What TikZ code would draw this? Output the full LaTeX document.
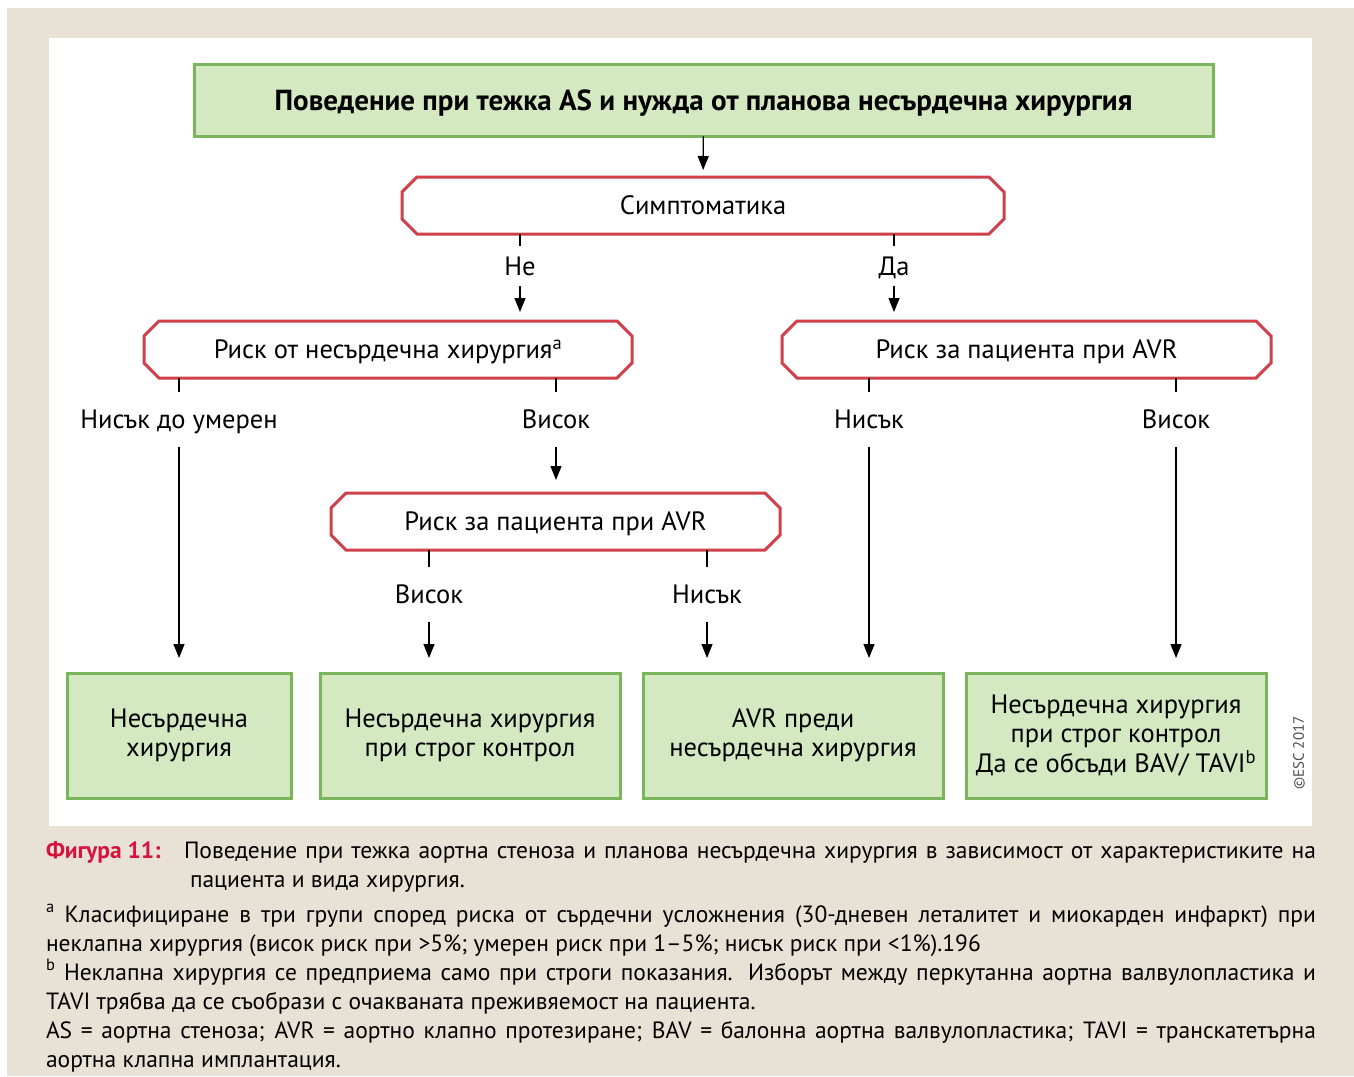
\documentclass[tikz,border=0pt]{standalone}
\usepackage{fontspec}
\setmainfont{PT Sans}
\usepackage{xcolor}
\usetikzlibrary{arrows.meta}
\definecolor{escbeige}{HTML}{E8E1D6}
\definecolor{escgreen}{HTML}{D4E8C2}
\definecolor{escgreenline}{HTML}{7AB55C}
\definecolor{escred}{HTML}{D0404A}
\definecolor{esccaption}{HTML}{D4143C}
\newcommand{\fullline}[2]{\makebox[#1pt][s]{#2}}

\begin{document}
\begin{tikzpicture}[x=1pt,y=-1pt,
    every node/.style={inner sep=0pt,outer sep=0pt},
    bodyfont/.style={font=\fontsize{26.5}{29.5}\selectfont},
    capfont/.style={font=\fontsize{23.5}{29}\selectfont},
    box/.style={bodyfont,draw=escgreenline,fill=escgreen,line width=3pt,align=center,minimum height=125},
    riskbox/.style={bodyfont,rectangle,minimum height=57,text height=18.5pt,text depth=0pt},
    redline/.style={draw=escred,line width=3pt},
    choice/.style={bodyfont,minimum height=55,text height=18.5pt,text depth=0pt},
    arr/.style={-{Triangle[length=14pt,width=11pt]},line width=1.2pt}]
  \useasboundingbox (0,0) rectangle (1354,1076);
  \fill[white] (0,0) rectangle (1354,1076);
  \fill[escbeige] (7,8) rectangle (1354,1076);
  \fill[white] (49,38) rectangle (1312,826);

  \node[draw=escgreenline,fill=escgreen,line width=3pt,minimum width=1019,minimum height=72,
    text height=20.5pt,text depth=0pt,font=\fontsize{29}{34}\selectfont\bfseries] (title) at (703.5,100)
    {Поведение при тежка AS и нужда от планова несърдечна хирургия};

  \node[riskbox,minimum width=602] (symp) at (703,205.5) {Симптоматика};
  \node[riskbox,minimum width=488] (riskL) at (388,349.5) {Риск от несърдечна хирургия\textsuperscript{a}};
  \node[riskbox,minimum width=489] (riskR) at (1026.5,349.5) {Риск за пациента при AVR};
  \node[riskbox,minimum width=449] (riskM) at (555.5,521.5) {Риск за пациента при AVR};
  \foreach \n in {symp,riskL,riskR,riskM}
    \draw[redline] ([xshift=15]\n.north west) -- ([xshift=-15]\n.north east)
      -- ([yshift=-15]\n.north east) -- ([yshift=15]\n.south east)
      -- ([xshift=-15]\n.south east) -- ([xshift=15]\n.south west)
      -- ([yshift=15]\n.south west) -- ([yshift=-15]\n.north west) -- cycle;

  \node[choice,minimum height=40] (no) at (520,266) {Не};
  \node[choice,minimum height=40] (yes) at (894,266) {Да};
  \node[choice] (lowmod) at (179,419) {Нисък до умерен};
  \node[choice] (highL) at (556,419) {Висок};
  \node[choice] (lowR) at (869,419) {Нисък};
  \node[choice] (highR) at (1176,419) {Висок};
  \node[choice] (highM) at (429,594) {Висок};
  \node[choice] (lowM) at (707,594) {Нисък};

  \node[box,minimum width=224] (b1) at (179,735.5) {Несърдечна\\хирургия};
  \node[box,minimum width=300] (b2) at (470,735.5) {Несърдечна хирургия\\при строг контрол};
  \node[box,minimum width=300] (b3) at (793,735.5) {AVR преди\\несърдечна хирургия};
  \node[box,minimum width=300] (b4) at (1116,735.5)
    {Несърдечна хирургия\\при строг контрол\\Да се обсъди BAV/ TAVI\textsuperscript{b}};

  \draw[arr,shorten >=7] (title) -- (symp);
  \draw[line width=1.2pt] (symp.south -| no) -- (no.north);
  \draw[arr,shorten >=9] (no.south) -- (riskL.north -| no);
  \draw[line width=1.2pt] (symp.south -| yes) -- (yes.north);
  \draw[arr,shorten >=9] (yes.south) -- (riskR.north -| yes);

  \draw[line width=1.2pt] (riskL.south -| lowmod) -- (lowmod.north);
  \draw[arr,shorten >=15] (lowmod.south) -- (b1.north);
  \draw[line width=1.2pt] (riskL.south -| highL) -- (highL.north);
  \draw[arr,shorten >=13] (highL.south) -- (riskM.north -| highL);
  \draw[line width=1.2pt] (riskR.south -| lowR) -- (lowR.north);
  \draw[arr,shorten >=15] (lowR.south) -- (b3.north -| lowR);
  \draw[line width=1.2pt] (riskR.south -| highR) -- (highR.north);
  \draw[arr,shorten >=15] (highR.south) -- (b4.north -| highR);

  \draw[line width=1.2pt] (riskM.south -| highM) -- (highM.north);
  \draw[arr,shorten >=15] (highM.south) -- (b2.north -| highM);
  \draw[line width=1.2pt] (riskM.south -| lowM) -- (lowM.north);
  \draw[arr,shorten >=15] (lowM.south) -- (b3.north -| lowM);

  \node[rotate=90,font=\fontsize{15}{15}\selectfont,text=black!70] (esc) at (1299,753) {©ESC 2017};

  % caption
  \node[anchor=base west,text=esccaption,font={\fontsize{23.5}{29}\selectfont\bfseries}] (fig) at (46,858) {Фигура 11:};
  \node[capfont,anchor=base west] (cap1) at (184,858) {\fullline{1132}{Поведение при тежка аортна стеноза и планова несърдечна хирургия в зависимост от характеристиките на}};
  \node[capfont,anchor=base west] (cap2) at (190,887) {пациента и вида хирургия.};
  \node[capfont,anchor=base west] (fn1) at (46,922) {\fullline{1270}{\textsuperscript{a} Класифициране в три групи според риска от сърдечни усложнения (30-дневен леталитет и миокарден инфаркт) при}};
  \node[capfont,anchor=base west] (fn2) at (46,951) {неклапна хирургия (висок риск при >5\%; умерен риск при 1–5\%; нисък риск при <1\%).196};
  \node[capfont,anchor=base west] (fn3) at (46,980) {\fullline{1270}{\textsuperscript{b} Неклапна хирургия се предприема само при строги показания. Изборът между перкутанна аортна валвулопластика и}};
  \node[capfont,anchor=base west] (fn4) at (46,1009) {TAVI трябва да се съобрази с очакваната преживяемост на пациента.};
  \node[capfont,anchor=base west] (fn5) at (46,1038) {\fullline{1270}{AS = аортна стеноза; AVR = аортно клапно протезиране; BAV = балонна аортна валвулопластика; TAVI = транскатетърна}};
  \node[capfont,anchor=base west] (fn6) at (46,1067) {аортна клапна имплантация.};
\end{tikzpicture}
\end{document}
